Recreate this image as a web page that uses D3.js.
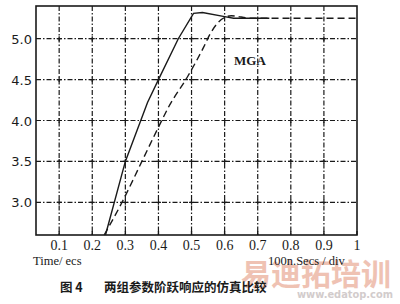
<!DOCTYPE html>
<html>
<head>
<meta charset="utf-8">
<script src="https://cdn.jsdelivr.net/npm/d3@7"></script>
<style>
  body { margin: 0; background: #fff; }
  svg { display: block; }
</style>
</head>
<body>
<div id="chart"></div>
<script>
var WIDTH = 400;
var HEIGHT = 304;

// tick values
var xTicks = [0.1, 0.2, 0.3, 0.4, 0.5, 0.6, 0.7, 0.8, 0.9, 1];
var yTicks = [3.0, 3.5, 4.0, 4.5, 5.0];

// solid curve (one parameter set)
var solidX = [0.24, 0.30, 0.367, 0.40, 0.46, 0.506, 0.533, 0.60, 0.627, 0.735];
var solidY = [2.6, 3.5, 4.22, 4.5, 5.0, 5.31, 5.32, 5.27, 5.25, 5.25];

// dashed curve (MGA parameters)
var dashedX = [0.236, 0.29, 0.35, 0.41, 0.43, 0.49, 0.537, 0.555, 0.60, 0.62, 0.68, 1.0];
var dashedY = [2.6, 3.0, 3.5, 4.0, 4.16, 4.55, 4.9, 5.05, 5.26, 5.28, 5.25, 5.25];

var svg = d3.select('#chart').append('svg')
    .attr('width', WIDTH)
    .attr('height', HEIGHT)
    .style('background-color', 'white');

var x = d3.scaleLinear().domain([0.03, 1]).range([36, 357]);
var y = d3.scaleLinear().domain([2.6, 5.4]).range([235, 6]);

var ink = '#1a1a1a';
var gridX = xTicks.filter(function(d) { return d < 1; });

// grid, dash-dot
gridX.forEach(function(d) {
    svg.append('line')
        .attr('x1', x(d)).attr('x2', x(d))
        .attr('y1', y(5.4)).attr('y2', y(2.6))
        .style('stroke', ink)
        .style('stroke-width', '1.2px')
        .style('stroke-dasharray', '5 2 1.5 2');
});
yTicks.forEach(function(d) {
    svg.append('line')
        .attr('x1', x(0.03)).attr('x2', x(1))
        .attr('y1', y(d)).attr('y2', y(d))
        .style('stroke', ink)
        .style('stroke-width', '1.2px')
        .style('stroke-dasharray', '5 2 1.5 2');
});

// little crosses where the grid lines meet
gridX.forEach(function(a) {
    yTicks.forEach(function(b) {
        svg.append('path')
            .attr('d', 'M' + (x(a) - 2.5) + ',' + y(b) + 'h5M' + x(a) + ',' + (y(b) - 2.5) + 'v5')
            .style('stroke', ink)
            .style('stroke-width', '1.2px')
            .style('fill', 'none');
    });
});

// frame
svg.append('rect')
    .attr('x', x(0.03)).attr('y', y(5.4))
    .attr('width', x(1) - x(0.03))
    .attr('height', y(2.6) - y(5.4))
    .style('fill', 'none')
    .style('stroke', ink)
    .style('stroke-width', '1.6px');

// bottom ticks
xTicks.forEach(function(d) {
    svg.append('line')
        .attr('x1', x(d)).attr('x2', x(d))
        .attr('y1', y(2.6)).attr('y2', y(2.6) - 4)
        .style('stroke', ink)
        .style('stroke-width', '1.4px');
});

// tick labels
svg.append('g').selectAll('text')
    .data(xTicks)
    .enter().append('text')
    .attr('x', d => x(d))
    .attr('y', 250)
    .attr('text-anchor', 'middle')
    .attr('font-family', 'Liberation Serif, serif')
    .attr('font-size', 14)
    .attr('fill', ink)
    .text(d => d === 1 ? '1' : d3.format('.1f')(d));

svg.append('g').selectAll('text')
    .data(yTicks)
    .enter().append('text')
    .attr('x', 32)
    .attr('y', d => y(d) + 5)
    .attr('text-anchor', 'end')
    .attr('font-family', 'DejaVu Sans, sans-serif')
    .attr('font-size', 13)
    .attr('fill', ink)
    .text(d => d3.format('.1f')(d));

// curves
var solidLine = d3.line()
    .x(d => x(d[0]))
    .y(d => y(d[1]));

var dashedLine = d3.line()
    .x(d => x(d[0]))
    .y(d => y(d[1]))
    .curve(d3.curveMonotoneX);

svg.append('path')
    .datum(d3.zip(solidX, solidY))
    .attr('d', solidLine)
    .style('fill', 'none')
    .style('stroke', ink)
    .style('stroke-width', '1.4px');

svg.append('path')
    .datum(d3.zip(dashedX, dashedY))
    .attr('d', dashedLine)
    .style('fill', 'none')
    .style('stroke', ink)
    .style('stroke-width', '1.4px')
    .style('stroke-dasharray', '7 4');

// labels
svg.append('text')
    .attr('x', 234).attr('y', 65)
    .attr('font-family', 'Liberation Serif, serif')
    .attr('font-weight', 'bold')
    .attr('font-size', 13)
    .attr('fill', ink)
    .text('MGA');

svg.append('text')
    .attr('x', 33).attr('y', 265)
    .attr('font-family', 'Liberation Serif, serif')
    .attr('font-size', 12.5)
    .attr('fill', ink)
    .text('Time/ ecs');

// watermark (drawn under the axis note, as in the scan)
svg.append('text')
    .attr('x', 241).attr('y', 285)
    .attr('font-family', 'Noto Sans CJK SC, sans-serif')
    .attr('font-weight', 'bold')
    .attr('font-size', 30)
    .attr('fill', '#e59a82')
    .attr('opacity', 0.6)
    .text('易迪拓培训');

svg.append('text')
    .attr('x', 297).attr('y', 298)
    .attr('font-family', 'DejaVu Sans, sans-serif')
    .attr('font-weight', 'bold')
    .attr('font-size', 11)
    .attr('textLength', 96)
    .attr('lengthAdjust', 'spacingAndGlyphs')
    .attr('fill', '#c8c0c0')
    .attr('opacity', 0.8)
    .text('www.edatop.com');

svg.append('text')
    .attr('x', 268).attr('y', 265)
    .attr('font-family', 'Liberation Serif, serif')
    .attr('font-size', 12.5)
    .attr('fill', ink)
    .text('100n.Secs / div');

// caption
svg.append('text')
    .attr('x', 60).attr('y', 292)
    .attr('font-family', 'Noto Sans CJK SC, sans-serif')
    .attr('font-weight', 'bold')
    .attr('font-size', 12.5)
    .attr('fill', ink)
    .text('图 4');

svg.append('text')
    .attr('x', 104).attr('y', 292)
    .attr('font-family', 'Noto Sans CJK SC, sans-serif')
    .attr('font-weight', 'bold')
    .attr('font-size', 12.5)
    .attr('fill', ink)
    .text('两组参数阶跃响应的仿真比较');
</script>
</body>
</html>
